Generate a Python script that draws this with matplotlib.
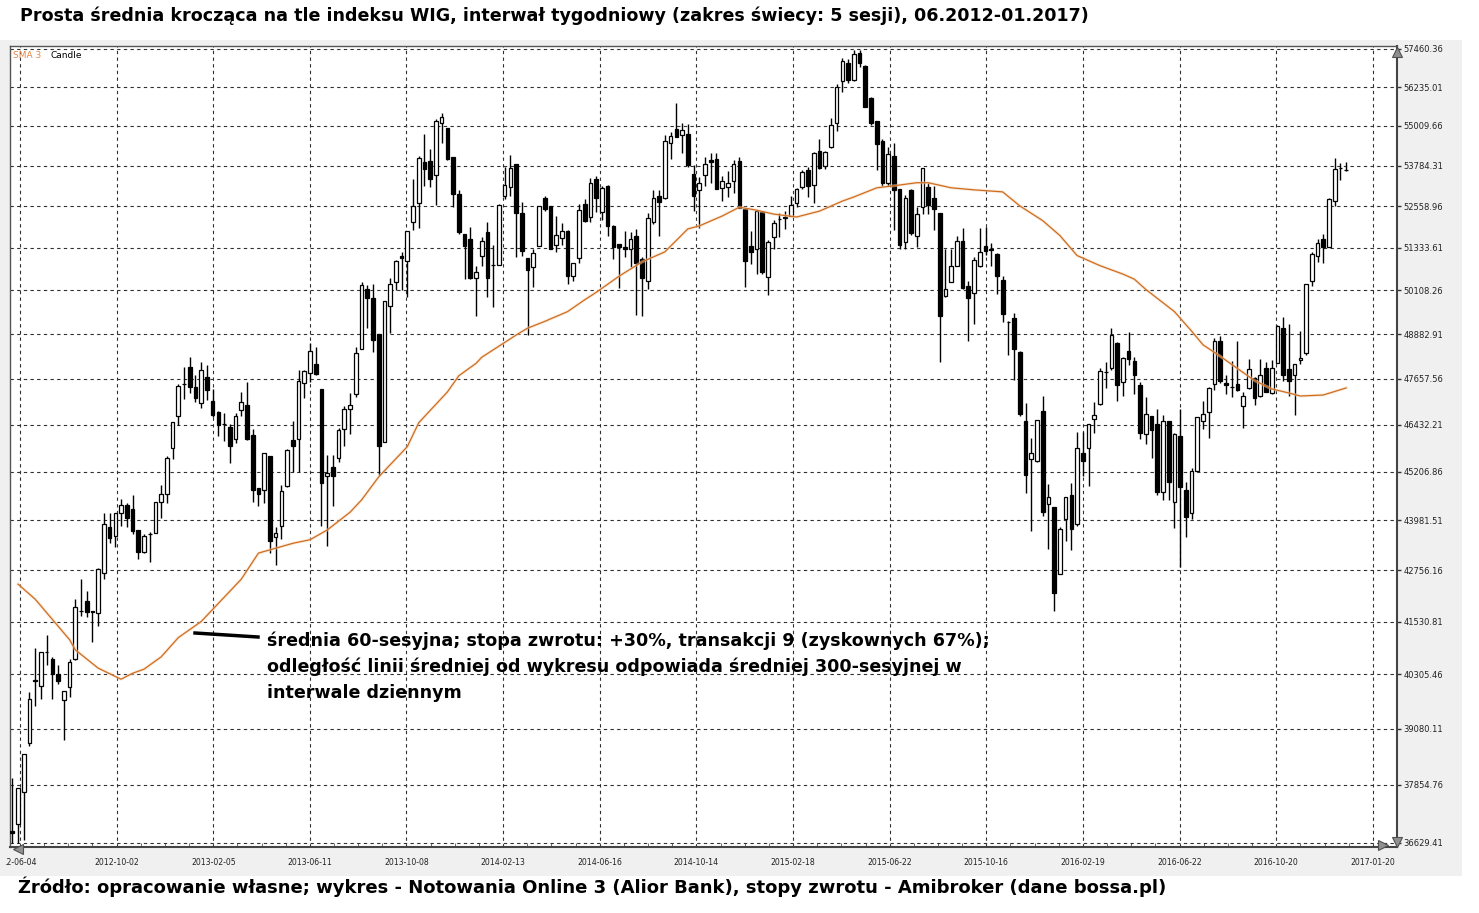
import numpy as np
import matplotlib.pyplot as plt
from matplotlib.patches import Rectangle
from matplotlib.lines import Line2D
from matplotlib.ticker import NullLocator

# Weekly candles (5 sessions each), WIG index 06.2012 - 01.2017
opens = [36870, 37030, 37700, 38770, 40170, 40040, 40820, 40660, 40320, 39725,
         40010, 40660, 41770, 42005, 41770, 41740, 42680, 43820, 43600, 44155,
         44365, 44255, 43740, 43205, 43650, 43660, 44435, 44640, 45825, 46675,
         47515, 47985, 47430, 47000, 47705, 47050, 46780, 46465, 46370, 46065,
         46815, 46960, 46155, 44790, 44750, 45625, 43565, 43845, 44860, 46040,
         46060, 47540, 47820, 48050, 47385, 45105, 45345, 45565, 46320, 46860,
         47250, 48465, 50155, 49880, 48880, 45980, 49665, 50335, 51110, 50965,
         52085, 52670, 53900, 53930, 53485, 55105, 54940, 54050, 52925, 51740,
         51595, 50460, 51090, 51790, 50850, 50845, 52875, 53130, 53825, 52345,
         51035, 50770, 51400, 52805, 52570, 51430, 51615, 51830, 50510, 51035,
         52640, 52230, 53385, 52375, 53165, 51985, 51450, 51355, 51305, 51690,
         51015, 50380, 52100, 52875, 52795, 54480, 54920, 54735, 54765, 53540,
         53030, 53485, 53945, 54000, 53100, 53130, 53315, 53915, 52470, 51385,
         51305, 52395, 50480, 51645, 52175, 52220, 52275, 52650, 53130, 53660,
         53210, 54235, 53775, 54360, 55095, 56435, 57010, 56465, 57325, 56925,
         55880, 55160, 54540, 53265, 54085, 53060, 51500, 53030, 51675, 52550,
         53130, 52795, 52355, 49955, 50360, 50815, 51545, 50235, 50045, 50815,
         51385, 51290, 51160, 50410, 49230, 49340, 48385, 46520, 45540, 45500,
         46795, 44385, 44320, 42675, 44025, 44620, 43880, 45695, 45825, 46590,
         46980, 47840, 47955, 48635, 47570, 48430, 48150, 47495, 46195, 46660,
         46450, 44690, 46520, 44450, 46145, 44750, 44155, 45240, 46525, 46770,
         47520, 48695, 47540, 47435, 47520, 46930, 47405, 47675, 47205, 47955,
         47275, 48095, 49065, 47925, 47775, 48170, 48375, 50380, 51110, 51595,
         51370, 52705, 53725, 53640]
highs = [38010, 37790, 38530, 39910, 40910, 40820, 41220, 40705, 40530, 39930,
         40660, 42060, 42540, 42245, 41775, 42805, 44155, 44155, 44170, 44510,
         44425, 44620, 43745, 43645, 43700, 44435, 44875, 45625, 46510, 47520,
         47985, 48265, 47750, 48125, 48030, 47385, 46785, 46735, 46460, 46750,
         47295, 47570, 46330, 44800, 45695, 45630, 43820, 44875, 45800, 46525,
         47890, 47890, 48635, 48540, 47390, 45650, 45650, 46345, 46930, 47275,
         48540, 50360, 50255, 50285, 48885, 49805, 50460, 50990, 51210, 51840,
         53385, 54085, 54765, 54305, 55210, 55420, 54945, 54055, 53030, 51745,
         51935, 50815, 51660, 52100, 51420, 52620, 53745, 54100, 53845, 52690,
         51040, 51285, 52570, 52875, 52575, 52260, 52065, 51865, 50890, 52620,
         52775, 53410, 53470, 53180, 53205, 51990, 51455, 51820, 51790, 51890,
         51060, 52355, 53030, 53030, 54715, 54815, 55735, 55105, 55075, 53795,
         53440, 54050, 54180, 54180, 53470, 53610, 53945, 54050, 52475, 51840,
         52450, 52405, 51575, 52160, 52355, 52420, 52855, 53110, 53640, 53745,
         54205, 54610, 54225, 55260, 56330, 57170, 57145, 57430, 57430, 56930,
         55910, 55165, 54610, 54360, 54490, 53065, 52895, 53060, 52550, 53715,
         53265, 53180, 52360, 51305, 51305, 51690, 51910, 50380, 51060, 51905,
         51935, 51480, 51190, 50510, 49235, 49480, 48420, 47000, 46085, 46565,
         47185, 44900, 44325, 43820, 44565, 44920, 46255, 46255, 46455, 47040,
         47955, 48120, 49045, 48660, 48240, 48940, 48265, 47570, 47160, 46665,
         46860, 46685, 46525, 46215, 46840, 44960, 45305, 46645, 47070, 47450,
         48770, 48820, 47750, 48145, 48695, 47315, 48195, 47705, 48195, 48120,
         48175, 49140, 49365, 49175, 48060, 48975, 50285, 51210, 51595, 51740,
         52795, 54030, 53875, 53900]
lows = [36630, 36630, 36700, 38710, 39580, 39740, 40530, 39740, 40080, 38825,
        39800, 40630, 41660, 41645, 41045, 41435, 42555, 43425, 43325, 43845,
        43820, 43645, 43040, 43185, 42965, 43660, 44040, 44425, 45535, 46415,
        47115, 47275, 47025, 46870, 47095, 46640, 46125, 45995, 45435, 45955,
        46660, 46040, 44435, 44345, 44410, 43185, 42880, 43520, 44815, 45215,
        45215, 47135, 47585, 47775, 43840, 43345, 44330, 45450, 45885, 46195,
        47175, 48465, 49045, 48385, 45130, 45975, 48910, 50115, 50115, 49925,
        51865, 51905, 53165, 53130, 52590, 54480, 53945, 52550, 51740, 50430,
        50430, 49380, 50800, 49910, 49635, 50840, 52775, 52875, 51060, 51110,
        48845, 50215, 51395, 52420, 51300, 51225, 51420, 50305, 50380, 50895,
        52085, 52085, 52375, 52160, 51690, 51015, 50185, 51060, 50770, 49410,
        49380, 50160, 52035, 51690, 52775, 54000, 54660, 54155, 53745, 52420,
        51905, 53165, 53265, 53060, 52705, 52825, 52960, 52515, 50215, 50865,
        50575, 50575, 49970, 51285, 51645, 51890, 52260, 52550, 53080, 52825,
        52650, 53690, 53670, 54335, 54835, 56090, 56360, 56435, 56885, 55595,
        55050, 53660, 53180, 53180, 51865, 51285, 51285, 51720, 51355, 52325,
        52325, 51865, 48125, 49935, 50335, 50800, 50155, 48680, 49155, 50770,
        51130, 50815, 50020, 49230, 48310, 47640, 46660, 44680, 43725, 45475,
        44090, 43280, 41780, 42670, 43460, 43260, 43845, 45105, 44860, 46215,
        46960, 47405, 47890, 47070, 47205, 48030, 47250, 46060, 45935, 45565,
        44620, 44495, 44495, 43785, 42845, 43565, 44025, 45235, 46320, 46085,
        47365, 47540, 47250, 47160, 47340, 46345, 47385, 46960, 47160, 47295,
        47250, 48075, 47610, 47205, 46680, 48050, 48310, 50235, 50915, 50895,
        51365, 52570, 53335, 53610]
closes = [36840, 37785, 38525, 39740, 40150, 40815, 40810, 40305, 40155, 39925,
          40580, 41885, 41790, 41765, 41760, 42780, 43880, 43545, 44168, 44365,
          44050, 43725, 43205, 43600, 43640, 44433, 44640, 45565, 46505, 47475,
          47525, 47430, 47135, 47890, 47365, 46685, 46430, 46455, 45890, 46660,
          47025, 46065, 44750, 44645, 45693, 43460, 43665, 44730, 45780, 45865,
          47610, 47865, 48430, 47780, 44920, 45175, 45100, 46300, 46840, 46950,
          48355, 50255, 49880, 48725, 45865, 49800, 50285, 50945, 51035, 51820,
          52570, 54020, 53670, 53385, 55160, 55285, 53975, 52925, 51790, 51400,
          50460, 50625, 51530, 50460, 50840, 52600, 53210, 53715, 52345, 51255,
          50700, 51180, 52568, 52490, 51305, 51720, 51820, 50510, 50885, 52440,
          52130, 53255, 52795, 53110, 51985, 51355, 51355, 51285, 51595, 50895,
          50450, 52200, 52795, 52690, 54540, 54695, 54665, 54895, 53815, 52875,
          53255, 53845, 53900, 53080, 53315, 53255, 53825, 52520, 50965, 51210,
          52405, 50640, 51500, 52065, 52185, 52230, 52590, 53060, 53590, 53180,
          54175, 53715, 54205, 55050, 56225, 57060, 56465, 57295, 57010, 55598,
          55095, 54440, 53265, 54130, 53030, 51420, 52795, 51760, 52325, 53712,
          52600, 52490, 49395, 50160, 50815, 51545, 50185, 49880, 50985, 51210,
          51240, 51280, 50510, 49430, 49225, 48475, 46705, 45130, 45695, 46562,
          44195, 44580, 42205, 43760, 44560, 43760, 45825, 45500, 46450, 46700,
          47870, 47850, 48845, 47505, 48235, 48195, 47750, 46215, 46705, 46300,
          44705, 46545, 44945, 46190, 44815, 44065, 45240, 46640, 46725, 47420,
          48695, 47595, 47505, 47430, 47365, 47190, 47915, 47135, 47775, 47315,
          47955, 49120, 47750, 47610, 48058, 48235, 50280, 51160, 51480, 51370,
          52770, 53690, 53715, 53645]

# 60-bar simple moving average
sma_idx = [1, 4, 7, 10, 11, 15, 19, 21, 23, 26, 29, 33, 40, 43, 46, 49, 52, 55,
           59, 61, 64, 69, 71, 76, 78, 81, 82, 88, 90, 93, 97, 100, 102, 106,
           110, 114, 118, 120, 124, 127, 130, 133, 137, 141, 145, 147, 151, 154,
           158, 160, 164, 168, 173, 176, 180, 183, 186, 190, 194, 196, 198, 203,
           206, 208, 211, 214, 217, 220, 223, 225, 229, 233]
sma_val = [42420, 42060, 41580, 41106, 40870, 40447, 40194, 40329, 40423, 40706,
           41153, 41531, 42540, 43174, 43294, 43414, 43502, 43742, 44186, 44493,
           45080, 45860, 46487, 47304, 47742, 48077, 48244, 48855, 49046, 49236,
           49510, 49844, 50054, 50516, 50925, 51217, 51887, 51975, 52267, 52530,
           52442, 52325, 52238, 52413, 52712, 52835, 53110, 53172, 53264, 53264,
           53111, 53049, 52988, 52568, 52130, 51692, 51109, 50817, 50575, 50429,
           50137, 49510, 48965, 48586, 48272, 47939, 47612, 47386, 47277, 47196,
           47223, 47413]

y_ticks = [36629.41, 37854.76, 39080.11, 40305.46, 41530.81, 42756.16, 43981.51,
           45206.86, 46432.21, 47657.56, 48882.91, 50108.26, 51333.61, 52558.96,
           53784.31, 55009.66, 56235.01, 57460.36]
x_labels = ['.2-06-04', '2012-10-02', '2013-02-05', '2013-06-11', '2013-10-08',
            '2014-02-13', '2014-06-16', '2014-10-14', '2015-02-18', '2015-06-22',
            '2015-10-16', '2016-02-19', '2016-06-22', '2016-10-20', '2017-01-20']

title = ("Prosta średnia krocząca na tle indeksu WIG, interwał tygodniowy "
         "(zakres świecy: 5 sesji), 06.2012-01.2017)")
source = ("Źródło: opracowanie własne; wykres - Notowania Online 3 (Alior Bank), "
          "stopy zwrotu - Amibroker (dane bossa.pl)")
note = ["średnia 60-sesyjna; stopa zwrotu: +30%, transakcji 9 (zyskownych 67%);",
        "odległość linii średniej od wykresu odpowiada średniej 300-sesyjnej w",
        "interwale dziennym"]

W, H = 1479, 913


def fx(px):
    return px / W


def fy(py):
    return 1 - py / H


fig = plt.figure(figsize=(W / 100, H / 100), dpi=100, facecolor='white')

# grey chart panel behind the plot area
fig.patches.append(Rectangle((0, fy(876)), 1462 / W, (876 - 40) / H,
                             transform=fig.transFigure, facecolor='#f0f0f0',
                             edgecolor='none', zorder=-5))

ax = fig.add_axes([fx(10), fy(847), 1387 / W, 801 / H])
ax.set_zorder(2)
ax.set_facecolor('white')

o = np.array(opens, dtype=float)
h = np.array(highs, dtype=float)
l = np.array(lows, dtype=float)
c = np.array(closes, dtype=float)
x = np.arange(len(o))
up = c >= o

ax.vlines(x, l, h, color='black', linewidth=1.0, zorder=2)
ax.bar(x, np.abs(c - o), bottom=np.minimum(o, c), width=0.64,
       color=np.where(up, 'white', 'black'), edgecolor='black',
       linewidth=0.9, zorder=3)

ax.plot(sma_idx, sma_val, color='#f5d5b8', lw=2.2, alpha=0.5, zorder=4)
ax.plot(sma_idx, sma_val, color='#cf6d1f', lw=0.9, zorder=5)

ax.set_yscale('log')
ax.set_ylim(36546, 57558)
ax.yaxis.tick_right()
ax.set_yticks(y_ticks)
ax.set_yticklabels(['%.2f' % v for v in y_ticks])
ax.yaxis.set_minor_locator(NullLocator())

ax.set_xlim(-0.4, 240.8)
x_pos = 1.34 + 16.88 * np.arange(len(x_labels))
ax.set_xticks(x_pos)
ax.set_xticklabels(x_labels)
ax.set_xticks(1.34 + 4.22 * np.arange(58), minor=True)

ax.tick_params(axis='y', which='major', length=3, width=1, color='#333333',
               labelsize=6, labelcolor='#222222', pad=1.5)
ax.tick_params(axis='x', which='major', length=0, labelsize=5.6,
               labelcolor='#222222', pad=8)
ax.tick_params(axis='x', which='minor', length=3, direction='in', color='#555555')

ax.grid(True, which='major', linestyle=(0, (3, 3)), color='#303030', linewidth=0.8)
ax.set_axisbelow(True)

for side in ['top', 'left']:
    ax.spines[side].set_color('#555555')
    ax.spines[side].set_linewidth(1.0)
for side in ['right', 'bottom']:
    ax.spines[side].set_color('#444444')
    ax.spines[side].set_linewidth(1.5)

# little axis arrows like in the original program
arrow_kw = dict(transform=ax.transAxes, clip_on=False, ms=7, color='#909090',
                mec='#505050', mew=0.8, linestyle='none', zorder=6)
ax.plot([1.0], [0.993], marker='^', **arrow_kw)
ax.plot([1.0], [0.006], marker='v', **arrow_kw)
ax.plot([0.99], [0.003], marker='>', **arrow_kw)
ax.plot([0.006], [-0.003], marker='<', **arrow_kw)

# legend text in the corner
ax.text(3 / 1387, 1 - 9 / 801, 'SMA 3', color='#e8853f', fontsize=6.5,
        va='center', transform=ax.transAxes)
ax.text(41 / 1387, 1 - 9 / 801, 'Candle', color='black', fontsize=6.5,
        va='center', transform=ax.transAxes)

fig.text(fx(20), fy(16), title, fontsize=12.65, fontweight='bold', va='center', ha='left')
fig.text(fx(18), fy(887), source, fontsize=13.0, fontweight='bold', va='center', ha='left')

ax.add_artist(Line2D([fx(195), fx(258)], [fy(633), fy(637)], color='black', lw=2.5,
                     transform=fig.transFigure))
for k, line in enumerate(note):
    ax.text(fx(267), fy(641 + 26 * k), line, fontsize=12.6, fontweight='bold',
            va='center', ha='left', transform=fig.transFigure)

fig.savefig('out.png', dpi=100)
